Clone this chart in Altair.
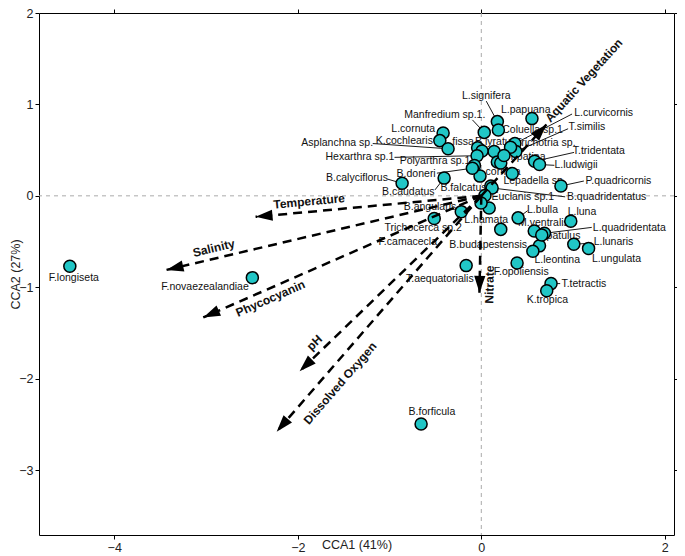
import math
import altair as alt
import pandas as pd

# ---------------- data ----------------
species = ["L.signifera", "L.papuana", "L.curvicornis", "T.similis", "Coluella sp.1",
           "Manfredium sp.1.", "L.cornuta", "K.cochlearis", "Asplanchna sp.", "L.fissa",
           "B.lyratus", "Trichotria sp.", "T.patina", "T.tridentata", "L.ludwigii",
           "P.quadricornis", "Lepadella sp.", "A.cornuta", "Hexarthra sp.1", "Polyarthra sp.1",
           "B.calyciflorus", "B.doneri", "B.caudatus", "B.falcatus", "B.quadridentatus",
           "Euclanis sp.1", "B.angularis", "L.hamata", "Trichocerca sp.2", "F.camacecla",
           "B.budapestensis", "L.bulla", "L.luna", "M.ventralis", "L.quadridentata",
           "P.patulus", "L.lunaris", "L.ungulata", "L.leontina", "F.opoliensis",
           "T.tetractis", "K.tropica", "T.aequatorialis", "F.longiseta", "F.novaezealandiae",
           "B.forficula"]
cca1 = [0.175, 0.552, 0.366, 0.376, 0.186,
        0.032, -0.416, -0.452, -0.362, -0.040,
        0.008, 0.319, 0.247, 0.581, 0.634,
        0.868, 0.337, -0.014, -0.046, -0.075,
        -0.863, -0.097, -0.405, 0.104, 0.118,
        0.040, -0.218, 0.086, -0.513, -0.003,
        0.212, 0.401, 0.975, 0.577, 0.688,
        0.659, 1.008, 1.169, 0.562, 0.390,
        0.760, 0.713, -0.165, -4.484, -2.495,
        -0.656]
cca2 = [0.812, 0.845, 0.572, 0.485, 0.720,
        0.694, 0.687, 0.604, 0.515, 0.525,
        0.491, 0.532, 0.442, 0.378, 0.342,
        0.108, 0.245, 0.216, 0.439, 0.331,
        0.137, 0.302, 0.194, 0.108, 0.086,
        0.003, -0.173, -0.133, -0.248, -0.079,
        -0.367, -0.241, -0.277, -0.385, -0.410,
        -0.428, -0.529, -0.575, -0.607, -0.734,
        -0.960, -1.039, -0.763, -0.771, -0.895,
        -2.495]
label_x = [0.054, 0.484, 1.333, 1.151, 0.559,
           -0.398, -0.742, -0.839, -1.570, -0.247,
           0.155, 0.699, 0.499, 1.280, 1.032,
           1.495, 0.581, 0.183, -1.323, -0.505,
           -1.355, -0.710, -0.796, -0.194, 1.366,
           0.452, -0.559, 0.054, -0.634, -0.801,
           0.075, 0.667, 1.097, 0.677, 1.613,
           0.849, 1.441, 1.473, 0.828, 0.435,
           1.118, 0.720, -0.452, -4.441, -3.011,
           -0.538]
label_y = [1.090, 0.939, 0.903, 0.748, 0.720,
           0.885, 0.730, 0.604, 0.579, 0.588,
           0.586, 0.583, 0.421, 0.489, 0.334,
           0.162, 0.162, 0.259, 0.424, 0.378,
           0.197, 0.234, 0.040, 0.090, -0.008,
           -0.011, -0.126, -0.259, -0.348, -0.510,
           -0.536, -0.151, -0.176, -0.295, -0.348,
           -0.439, -0.510, -0.690, -0.701, -0.834,
           -0.968, -1.143, -0.906, -0.895, -0.996,
           -2.362]

# overlapping sites whose labels are hidden
extra_cca1 = [0.140, 0.175, 0.212, 0.634]
extra_cca2 = [0.485, 0.370, 0.359, -0.547]

# leader lines: species -> end point near its label
leader_species = ["L.signifera", "Manfredium sp.1.", "Asplanchna sp.", "Hexarthra sp.1",
                  "B.calyciflorus", "B.doneri", "B.caudatus", "L.curvicornis", "T.similis",
                  "T.tridentata", "L.ludwigii", "P.quadricornis", "B.quadridentatus",
                  "L.bulla", "L.quadridentata", "L.lunaris", "T.tetractis"]
leader_x = [0.054, -0.097, -1.183, -0.946,
            -1.022, -0.484, -0.505, 0.989, 0.946,
            1.011, 0.796, 1.118, 0.914,
            0.505, 1.204, 1.204, 0.860]
leader_y = [1.036, 0.831, 0.572, 0.421,
            0.183, 0.248, 0.065, 0.895, 0.734,
            0.475, 0.334, 0.162, -0.011,
            -0.162, -0.345, -0.518, -0.960]

env_vars = ["Aquatic Vegetation", "Temperature", "Salinity", "Phycocyanin",
            "pH", "Dissolved Oxygen", "Nitrate"]
env_cca1 = [0.71, -2.46, -3.43, -3.03, -1.98, -2.23, -0.02]
env_cca2 = [0.78, -0.23, -0.81, -1.33, -1.92, -2.58, -1.06]
env_label_x = [1.118, -1.876, -2.914, -2.298, -1.817, -1.538, 0.090]
env_label_y = [1.262, -0.061, -0.572, -1.122, -1.607, -2.050, -0.971]

x_ticks = [-4, -2, 0, 2]
y_ticks = [-3, -2, -1, 0, 1, 2]
x_domain = [-4.82, 2.1]
y_domain = [-3.71, 2.0]

# ---------------- layout ----------------
W, H = 635, 522
FONT = "Liberation Sans"
kx = W / (x_domain[1] - x_domain[0])
ky = H / (y_domain[1] - y_domain[0])

sp = pd.DataFrame({"species": species, "cca1": cca1, "cca2": cca2,
                   "lx": label_x, "ly": label_y})
ex = pd.DataFrame({"cca1": extra_cca1, "cca2": extra_cca2})
pos = dict(zip(species, zip(cca1, cca2)))
ld = pd.DataFrame({"species": leader_species,
                   "x0": [pos[s][0] for s in leader_species],
                   "y0": [pos[s][1] for s in leader_species],
                   "x1": leader_x, "y1": leader_y})

head_rot, text_ang = [], []
for dx, dy in zip(env_cca1, env_cca2):
    phi = math.degrees(math.atan2(-dy * ky, dx * kx))
    head_rot.append((phi + 90) % 360)
    ta = phi if math.cos(math.radians(phi)) >= 0 else phi + 180
    text_ang.append(ta % 360)
env = pd.DataFrame({"var": env_vars, "x": env_cca1, "y": env_cca2,
                    "ox": [0.0] * len(env_vars), "oy": [0.0] * len(env_vars),
                    "lx": env_label_x, "ly": env_label_y,
                    "rot": head_rot, "tang": text_ang})

xs = alt.Scale(domain=x_domain, nice=False, zero=False)
ys = alt.Scale(domain=y_domain, nice=False, zero=False)

def X(f, **kw):
    return alt.X(f, type="quantitative", scale=xs, axis=None, **kw)

def Y(f, **kw):
    return alt.Y(f, type="quantitative", scale=ys, axis=None, **kw)

zero = pd.DataFrame({"v": [0.0]})
vline = alt.Chart(zero).mark_rule(color="#aaaaaa", strokeDash=[4, 4], strokeWidth=1).encode(x=X("v"))
hline = alt.Chart(zero).mark_rule(color="#aaaaaa", strokeDash=[4, 4], strokeWidth=1).encode(y=Y("v"))

leaders = alt.Chart(ld).mark_rule(color="black", strokeWidth=0.9).encode(
    x=X("x0"), y=Y("y0"), x2="x1", y2="y1")

labels = alt.Chart(sp).mark_text(font=FONT, fontSize=10.5, color="#111111",
                                 align="center", baseline="middle").encode(
    x=X("lx"), y=Y("ly"), text="species:N")

extra_pts = alt.Chart(ex).mark_circle(size=145, color="#21C6C6", opacity=1,
                                      stroke="black", strokeWidth=1.5).encode(
    x=X("cca1"), y=Y("cca2"))

points = alt.Chart(sp).mark_circle(size=145, color="#21C6C6", opacity=1,
                                   stroke="black", strokeWidth=1.5).encode(
    x=alt.X("cca1:Q", scale=xs, title="CCA1 (41%)",
            axis=alt.Axis(values=x_ticks, orient="bottom", titlePadding=-15)),
    y=alt.Y("cca2:Q", scale=ys, title="CCA2 (27%)",
            axis=alt.Axis(values=y_ticks, orient="left", titlePadding=-4)))

arrows = alt.Chart(env).mark_rule(color="black", strokeWidth=2.5, strokeDash=[9, 6]).encode(
    x=X("ox"), y=Y("oy"), x2="x", y2="y")

heads = alt.Chart(env).mark_point(shape="M0,0L-0.33,1L0.33,1Z", filled=True, opacity=1,
                                  color="black", size=1150, strokeWidth=0).encode(
    x=X("x"), y=Y("y"), angle=alt.Angle("rot:Q", scale=None))

env_labels = alt.Chart(env).mark_text(font=FONT, fontSize=12, fontWeight="bold", color="#111111",
                                      align="center", baseline="middle").encode(
    x=X("lx"), y=Y("ly"), text="var:N", angle=alt.Angle("tang:Q", scale=None))

frame = alt.Chart(sp).mark_point(opacity=0).encode(
    x=alt.X("cca1:Q", scale=xs,
            axis=alt.Axis(values=x_ticks, orient="top", labels=False, title=None)),
    y=alt.Y("cca2:Q", scale=ys,
            axis=alt.Axis(values=y_ticks, orient="right", labels=False, title=None)))

chart = alt.layer(vline, hline, leaders, labels, extra_pts, points, arrows, heads,
                  env_labels, frame).resolve_axis(
    x="independent", y="independent"
).properties(
    width=W, height=H,
    autosize=alt.AutoSizeParams(type="none"),
    padding={"left": 31, "right": 3, "top": 5, "bottom": 21},
).configure_view(stroke=None).configure_axis(
    grid=False, domainColor="black", domainWidth=1, tickColor="black", tickSize=4,
    labelFont=FONT, labelFontSize=12.5, labelColor="#222222", labelPadding=2,
    titleFont=FONT, titleFontSize=12.5, titleFontWeight="normal", titleColor="#222222",
)

chart.save("out.html", embed_options={"renderer": "svg", "actions": False})
